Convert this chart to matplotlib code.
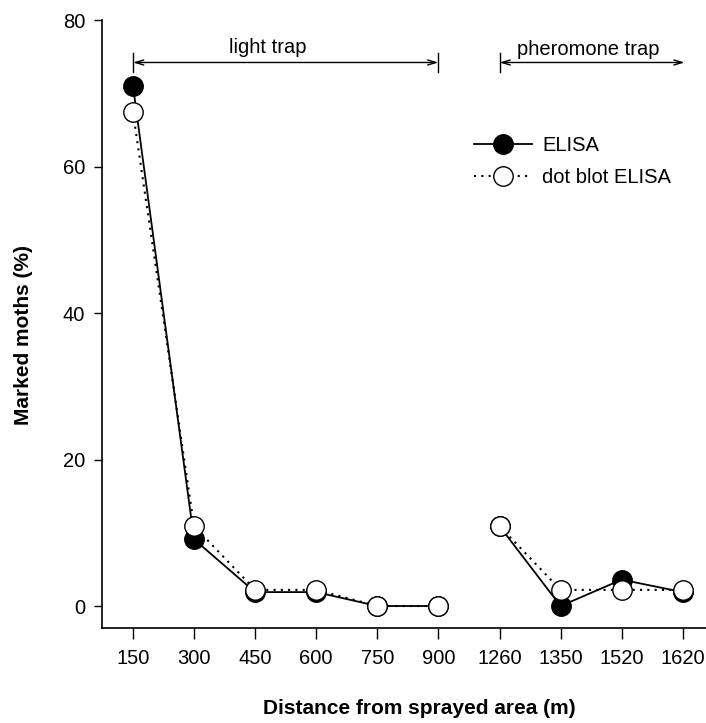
import numpy as np
import matplotlib
matplotlib.use("Agg")
import matplotlib.pyplot as plt

plt.rcParams['font.family'] = ['Liberation Sans', 'DejaVu Sans']

categories = ["150", "300", "450", "600", "750", "900", "1260", "1350", "1520", "1620"]
elisa = [71.0, 9.1, 1.9, 1.9, 0.0, 0.0, 10.9, 0.0, 3.6, 1.9]
dot_blot = [67.4, 10.9, 2.2, 2.2, 0.0, 0.0, 10.9, 2.2, 2.2, 2.2]
groups = [range(0, 6), range(6, 10)]
yticks = [0, 20, 40, 60, 80]

W, H = 706, 723
fig = plt.figure(figsize=(W / 100, H / 100), dpi=100)
ax = fig.add_axes([102 / W, (H - 628) / H, (W - 102) / W, (628 - 20) / H])

x = np.arange(len(categories))
dot_style = (0, (1, 2.5))
for gi, g in enumerate(groups):
    idx = list(g)
    ax.plot(x[idx], [elisa[i] for i in idx], '-', color='black', lw=1.3,
            marker='o', ms=14, mfc='black', mec='black', mew=1.0,
            label='ELISA' if gi == 0 else None, zorder=3)
for gi, g in enumerate(groups):
    idx = list(g)
    ax.plot(x[idx], [dot_blot[i] for i in idx], linestyle=dot_style, color='black', lw=1.5,
            marker='o', ms=14, mfc='white', mec='black', mew=1.0,
            label='dot blot ELISA' if gi == 0 else None, zorder=4)

ax.set_xlim(-0.507, 9.38)
ax.set_ylim(-3.0, 80)
ax.set_xticks(x)
ax.set_xticklabels(categories)
ax.set_yticks(yticks)
ax.tick_params(axis='both', direction='out', labelsize=14.5, width=1.0, color='black')
ax.tick_params(axis='x', length=8, pad=7)
ax.tick_params(axis='y', length=6, pad=6)
ax.spines['top'].set_visible(False)
ax.spines['right'].set_visible(False)
ax.spines['left'].set_linewidth(1.2)
ax.spines['bottom'].set_linewidth(1.2)

ax.set_xlabel('Distance from sprayed area (m)', fontsize=15, fontweight='bold')
ax.xaxis.set_label_coords((419 - 102) / 604, (628 - 699) / 608)
ax.set_ylabel('Marked moths (%)', fontsize=15, fontweight='bold')
ax.yaxis.set_label_coords((33 - 102) / 604, (628 - 335) / 608)

# trap range annotations
ay = 74.2
arrow_kw = dict(arrowstyle='<->, head_length=0.6, head_width=0.18', color='black', lw=1.0,
                shrinkA=0, shrinkB=0)
ax.annotate('', xy=(5, ay), xytext=(0, ay), arrowprops=arrow_kw)
for xb in (0, 5, 6):
    ax.plot([xb, xb], [ay - 1.3, ay + 1.3], color='black', lw=1.0, clip_on=False)
ax.text(2.2, ay + 2.1, 'light trap', ha='center', va='center', fontsize=14.5)

ax.annotate('', xy=(9.03, ay), xytext=(6, ay), arrowprops=arrow_kw)
ax.text(7.45, ay + 1.8, 'pheromone trap', ha='center', va='center', fontsize=14.5)

leg = ax.legend(loc='upper left', bbox_to_anchor=((474 - 102) / 604, (628 - 136) / 608),
                frameon=False, fontsize=14.5, handlelength=2.9, handletextpad=0.5,
                labelspacing=0.65, borderpad=0, borderaxespad=0)

fig.savefig('out.png', dpi=100)
